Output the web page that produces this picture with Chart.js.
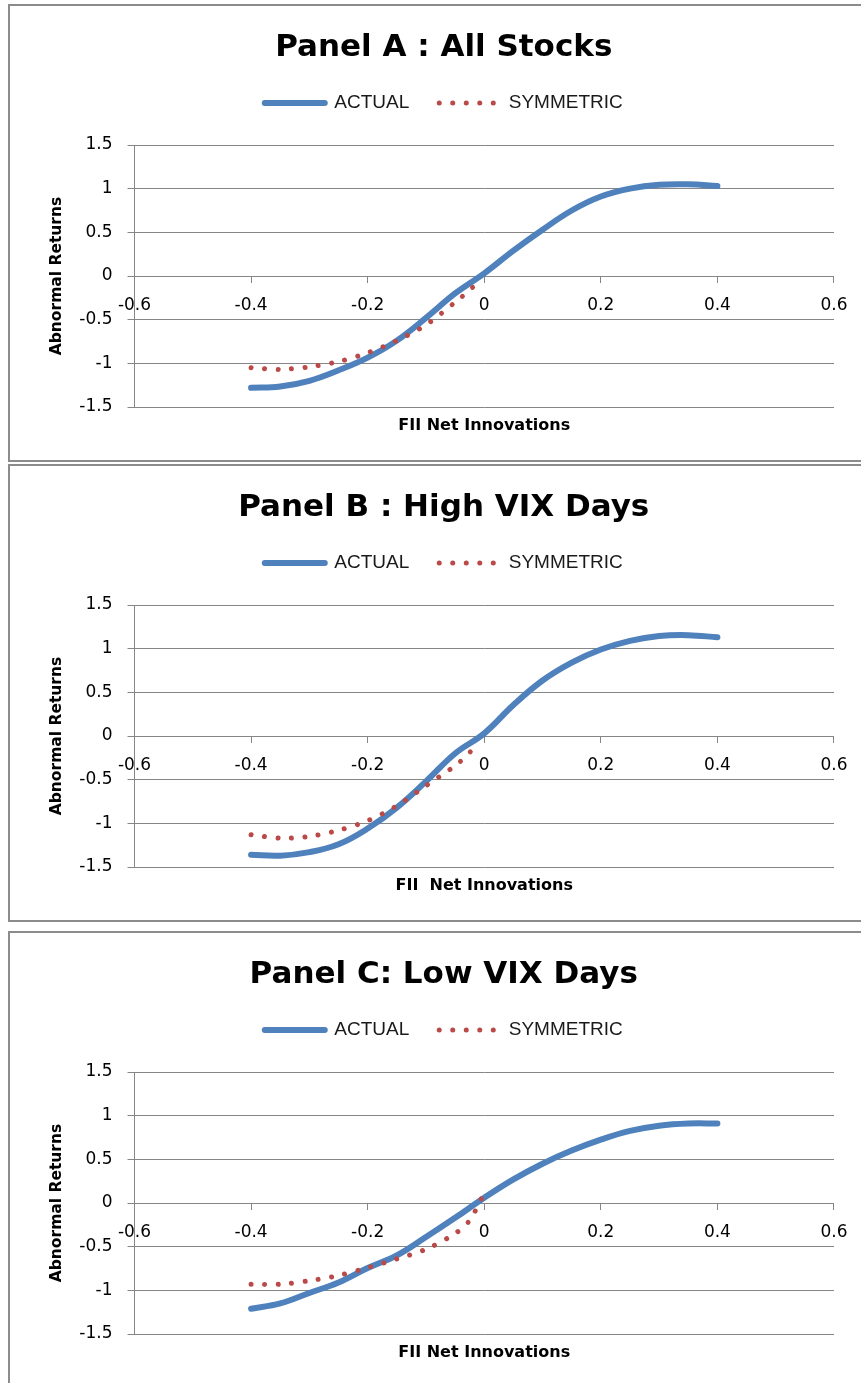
<!DOCTYPE html>
<html>
<head>
<meta charset="utf-8">
<script src="https://cdn.jsdelivr.net/npm/chart.js@4.4.0/dist/chart.umd.min.js"></script>
<style>
  body { margin: 0; background: #fff; width: 861px; height: 1383px; overflow: hidden; position: relative; }
  .panel { position: absolute; left: 8px; width: 870px; height: 458px; box-sizing: border-box; border: 2px solid #8c8c8c; background: #fff; }
  .panel canvas { position: absolute; left: 0; top: 0; }
</style>
</head>
<body>
<div class="panel" style="top:4px"><canvas id="chartA" width="851" height="454"></canvas></div>
<div class="panel" style="top:464px"><canvas id="chartB" width="851" height="454"></canvas></div>
<div class="panel" style="top:931px"><canvas id="chartC" width="851" height="454"></canvas></div>
<script>
// series names and axis ticks
const seriesNames = ['ACTUAL', 'SYMMETRIC'];
const xTicks = [-0.6, -0.4, -0.2, 0, 0.2, 0.4, 0.6];
const yTicks = [-1.5, -1, -0.5, 0, 0.5, 1, 1.5];

// x positions of the curves
const xActual = [-0.4, -0.35, -0.3, -0.25, -0.2, -0.15, -0.1, -0.05, 0, 0.05, 0.1, 0.15, 0.2, 0.25, 0.3, 0.35, 0.4];

// Panel A : All Stocks
const actualA = [-1.28, -1.265, -1.2, -1.08, -0.935, -0.74, -0.48, -0.2, 0.03, 0.29, 0.53, 0.75, 0.91, 1.0, 1.045, 1.05, 1.03];
const xSymA = [-0.4, -0.35, -0.3, -0.25, -0.2, -0.15, -0.1, -0.05, -0.02, -0.01];
const symA = [-1.05, -1.07, -1.04, -0.98, -0.88, -0.74, -0.56, -0.3, -0.13, -0.02];

// Panel B : High VIX Days
const actualB = [-1.36, -1.37, -1.33, -1.24, -1.06, -0.82, -0.52, -0.2, 0.03, 0.355, 0.635, 0.84, 0.99, 1.09, 1.145, 1.155, 1.13];
const xSymB = [-0.4, -0.35, -0.3, -0.25, -0.2, -0.15, -0.1, -0.05, -0.025, -0.01];
const symB = [-1.13, -1.17, -1.15, -1.08, -0.97, -0.8, -0.57, -0.34, -0.19, -0.06];

// Panel C: Low VIX Days
const actualC = [-1.21, -1.15, -1.03, -0.91, -0.745, -0.6, -0.39, -0.17, 0.06, 0.27, 0.45, 0.6, 0.725, 0.825, 0.885, 0.91, 0.91];
const xSymC = [-0.4, -0.35, -0.3, -0.25, -0.2, -0.15, -0.1, -0.05, -0.025, -0.005];
const symC = [-0.93, -0.93, -0.89, -0.83, -0.74, -0.64, -0.53, -0.35, -0.2, 0.05];

const gridColor = '#868686';

// extra room between legend and plot area
const legendSpace = {
  id: 'legendSpace',
  beforeInit(chart) {
    const fit = chart.legend.fit;
    chart.legend.fit = function () { fit.call(this); this.height += 22.5; };
  }
};

function makeChart(id, title, xTitle, actual, xSym, sym) {
  const datasets = [
    {
      label: seriesNames[0],
      data: xActual.map((x, i) => ({x: x, y: actual[i]})),
      borderColor: '#4F81BD', borderWidth: 6, borderCapStyle: 'round', borderJoinStyle: 'round',
      pointRadius: 0, tension: 0.4, order: 1
    },
    {
      label: seriesNames[1],
      data: xSym.map((x, i) => ({x: x, y: sym[i]})),
      borderColor: '#B94A47', borderWidth: 5, borderDash: [0.01, 13.5], borderCapStyle: 'round',
      pointRadius: 0, tension: 0.3, order: 0
    }
  ];

  new Chart(document.getElementById(id), {
    type: 'line',
    data: {datasets: datasets},
    plugins: [legendSpace],
    options: {
      responsive: false,
      animation: false,
      layout: {padding: {left: 34, right: 17.5, top: 0, bottom: 0}},
      plugins: {
        title: {
          display: true, text: title, color: '#000',
          font: {family: 'DejaVu Sans', size: 31, weight: 'bold', lineHeight: 1},
          padding: {top: 26.5, bottom: 0}
        },
        legend: {
          position: 'top',
          labels: {
            usePointStyle: true, pointStyleWidth: 60, padding: 30,
            font: {family: 'Liberation Sans', size: 19},
            generateLabels: chart => chart.data.datasets.map((ds, i) => ({
              text: ds.label, fillStyle: ds.borderColor, strokeStyle: ds.borderColor,
              lineWidth: ds.borderWidth, lineDash: ds.borderDash || [], lineCap: ds.borderCapStyle,
              pointStyle: 'line', hidden: false, datasetIndex: i, fontColor: '#1a1a1a'
            }))
          }
        },
        subtitle: {
          display: true, position: 'bottom', fullSize: false, text: xTitle, color: '#000',
          font: {family: 'DejaVu Sans', size: 16, weight: 'bold', lineHeight: 1},
          padding: {top: 11, bottom: 26}
        },
        tooltip: {enabled: false}
      },
      scales: {
        x: {
          type: 'linear', min: -0.6, max: 0.6, position: {y: 0},
          afterBuildTicks: s => { s.ticks = xTicks.map(v => ({value: v})); },
          ticks: {color: '#000', font: {family: 'DejaVu Sans', size: 17}, padding: 13.5, maxRotation: 0, callback: v => String(v)},
          grid: {drawOnChartArea: false, drawTicks: true, tickLength: 6, color: gridColor},
          border: {display: true, color: gridColor, width: 1}
        },
        y: {
          type: 'linear', min: -1.5, max: 1.5,
          afterBuildTicks: s => { s.ticks = yTicks.map(v => ({value: v})); },
          afterFit: s => { s.width = 90.5; },
          title: {display: true, text: 'Abnormal Returns', color: '#000',
                  font: {family: 'DejaVu Sans', size: 15.5, weight: 'bold'}, padding: {top: 4, bottom: 4}},
          ticks: {color: '#000', font: {family: 'DejaVu Sans', size: 17}, padding: 15, callback: v => String(v)},
          grid: {color: gridColor, tickLength: 7},
          border: {display: true, color: gridColor, width: 1}
        }
      }
    }
  });
}

makeChart('chartA', 'Panel A : All Stocks', 'FII Net Innovations', actualA, xSymA, symA);
makeChart('chartB', 'Panel B : High VIX Days', 'FII  Net Innovations', actualB, xSymB, symB);
makeChart('chartC', 'Panel C: Low VIX Days', 'FII Net Innovations', actualC, xSymC, symC);
</script>
</body>
</html>
